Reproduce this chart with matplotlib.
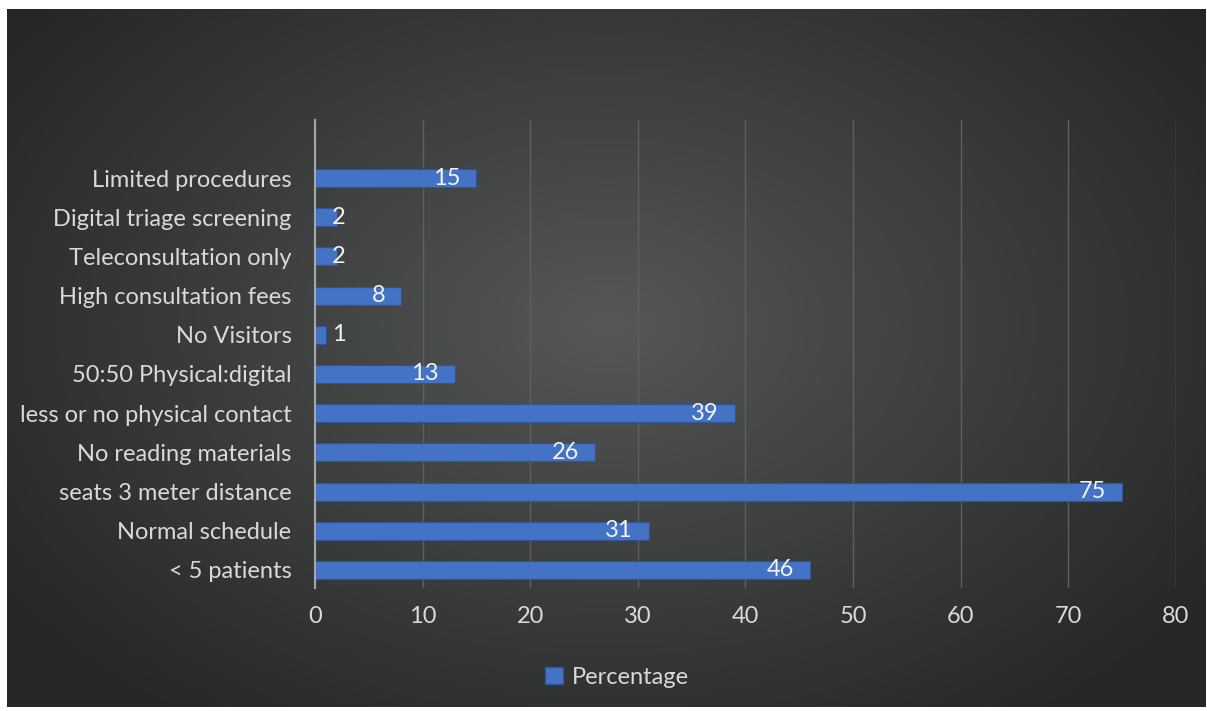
import numpy as np
import matplotlib
matplotlib.use("Agg")
import matplotlib.pyplot as plt
from matplotlib.patches import Patch
from matplotlib.transforms import offset_copy

categories = ["< 5 patients", "Normal schedule", "seats 3 meter distance",
              "No reading materials", "less or no physical contact",
              "50:50 Physical:digital", "No Visitors", "High consultation fees",
              "Teleconsultation only", "Digital triage screening",
              "Limited procedures"]
values = [46, 31, 75, 26, 39, 13, 1, 8, 2, 2, 15]
xticks = [0, 10, 20, 30, 40, 50, 60, 70, 80]
series_name = "Percentage"

plt.rcParams['font.family'] = ['Lato', 'DejaVu Sans']
TXT = "#d9d9d9"
BAR = "#4472c4"
FS = 17

W, H = 1207, 711
fig = plt.figure(figsize=(W / 100, H / 100), dpi=100)
fig.patch.set_facecolor("white")

# dark radial-gradient panel
bx0, by0, bx1, by1 = 7, 9, 1206, 707
bg = fig.add_axes([bx0 / W, 1 - by1 / H, (bx1 - bx0) / W, (by1 - by0) / H])
ny, nx = 300, 500
yy, xx = np.mgrid[0:ny, 0:nx]
cx, cy = nx * 0.50, ny * 0.45
d = np.sqrt(((xx - cx) / (nx * 0.62)) ** 2 + ((yy - cy) / (ny * 0.72)) ** 2)
d = np.clip(d, 0, 1)
c_in = np.array([0x58, 0x58, 0x58]) / 255
c_out = np.array([0x25, 0x27, 0x27]) / 255
img = c_in[None, None, :] * (1 - d[..., None] ** 0.9) + c_out[None, None, :] * (d[..., None] ** 0.9)
bg.imshow(img, aspect="auto", extent=[0, 1, 0, 1], interpolation="bilinear")
bg.set_axis_off()

# main axes
L, R, T, B = 315, 1176, 120, 588
ax = fig.add_axes([L / W, 1 - B / H, (R - L) / W, (B - T) / H])
ax.set_facecolor("none")
y = np.arange(len(categories))
bars = ax.barh(y, values, height=0.46, color=BAR, edgecolor="#2f5597",
               linewidth=0.8, zorder=3)
ax.set_xlim(0, 80)
ax.set_ylim(-0.46, len(categories) - 1 + 1.48)
ax.set_xticks(xticks)
ax.set_xticklabels([str(t) for t in xticks])
ax.set_yticks(y)
ax.set_yticklabels(categories)
ax.tick_params(axis="both", length=0, colors=TXT, labelsize=FS)
ax.tick_params(axis="x", pad=13)
ax.tick_params(axis="y", pad=17)
for lab in ax.get_yticklabels() + ax.get_xticklabels():
    lab.set_color(TXT)
ax.grid(axis="x", color="#5f5f5f", linewidth=1.0, zorder=0)
for s in ["top", "right", "bottom"]:
    ax.spines[s].set_visible(False)
ax.spines["left"].set_color("#a6a6a6")
ax.spines["left"].set_linewidth(1.5)
ax.spines["left"].set_zorder(4)

for yi, v in zip(y, values):
    if v < 5:
        tr = offset_copy(ax.transData, fig=fig, x=17, y=0, units="dots")
        ax.text(0, yi, str(v), transform=tr, ha="left", va="center",
                color="#f2f2f2", fontsize=FS, zorder=5)
    else:
        tr = offset_copy(ax.transData, fig=fig, x=-16, y=0, units="dots")
        ax.text(v, yi, str(v), transform=tr, ha="right", va="center",
                color="#f2f2f2", fontsize=FS, zorder=5)

handle = Patch(facecolor=BAR, edgecolor="#2f5597", label=series_name)
fig.legend(handles=[handle], loc="center", bbox_to_anchor=(617 / W, 1 - 677 / H),
           frameon=False, fontsize=FS, labelcolor=TXT, handlelength=0.75,
           handleheight=0.75, handletextpad=0.4)

fig.savefig("out.png", dpi=100, facecolor=fig.get_facecolor())
